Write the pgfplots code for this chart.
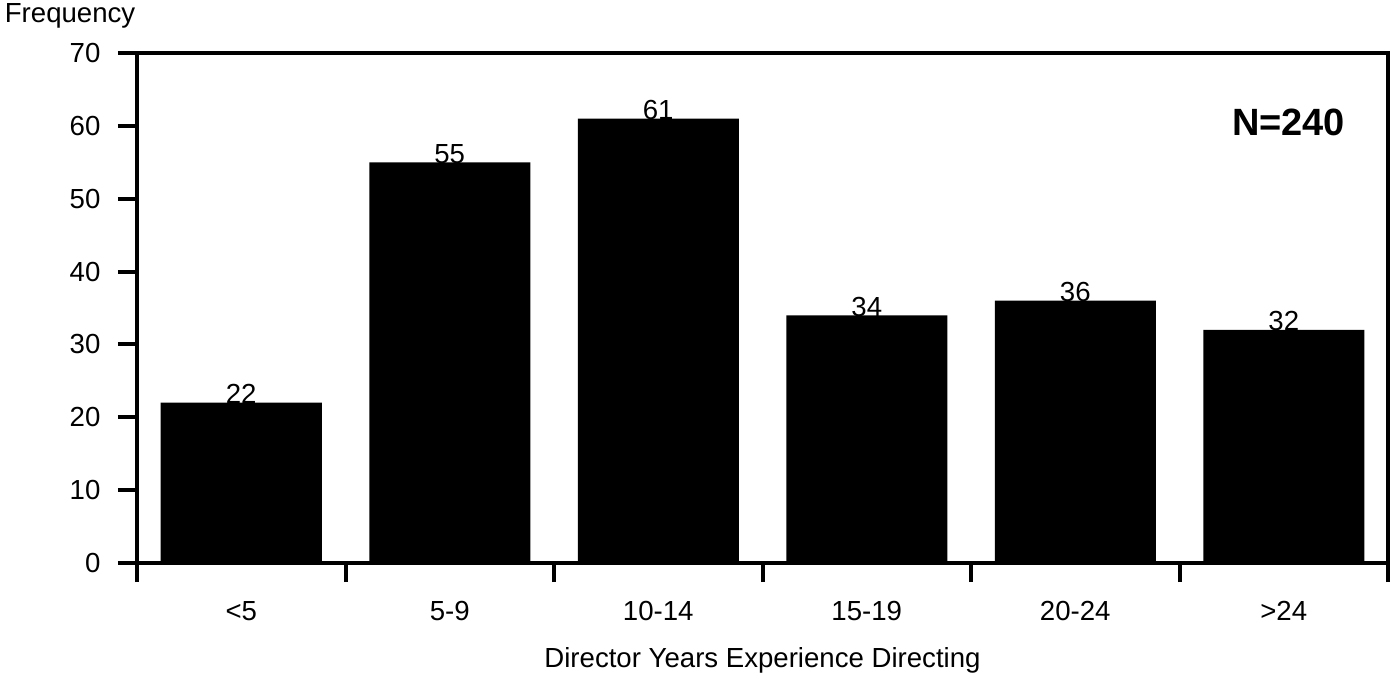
\documentclass[border=0pt]{standalone}
\usepackage{pgfplots}
\pgfplotsset{compat=1.18}
\usepackage{fontspec}
\setmainfont{Liberation Sans}
\newcommand{\basefont}{\fontsize{13.8pt}{15pt}\selectfont}
\begin{document}
\basefont
\begin{tikzpicture}[font=\basefont]
\path[use as bounding box] (-68.5pt,-57pt) rectangle (627pt,281.5pt);
\begin{axis}[
  at={(0,0)}, anchor=south west,
  scale only axis,
  width=625.5pt, height=255pt,
  ybar, bar width=80.5pt, bar shift=0pt,
  xmin=-0.5, xmax=5.5, ymin=0, ymax=70,
  xtick={-0.5,0.5,...,5.5},
  x tick label as interval,
  xticklabels={<5,5-9,10-14,15-19,20-24,>24},
  ytick={0,10,...,70},
  tick align=outside,
  xtick pos=bottom, ytick pos=left,
  major tick length=9.5pt,
  every tick/.style={black, line width=2pt},
  axis line style={line width=2.2pt},
  /pgf/number format/assume math mode=true,
  tick label style={font=\basefont},
  label style={font=\basefont},
  yticklabel style={xshift=-4pt},
  xticklabel style={yshift=-5pt},
  xlabel={Director Years Experience Directing},
  xlabel style={at={(axis description cs:0.5,-0.204)}, anchor=base},
  ylabel={Frequency},
  ylabel style={rotate=-90, at={(axis description cs:-0.0535,1.0725)}, anchor=center},
  nodes near coords,
  every node near coord/.append style={font=\basefont, anchor=base, inner sep=0pt, yshift=-0.5pt, black},
  clip=false,
]
\addplot[fill=black, draw=none] coordinates {(0,22) (1,55) (2,61) (3,34) (4,36) (5,32)};
\node[font=\fontsize{19pt}{20pt}\selectfont\bfseries, anchor=base] at (axis description cs:0.9205,0.839) {N=240};
\end{axis}
\end{tikzpicture}
\end{document}
